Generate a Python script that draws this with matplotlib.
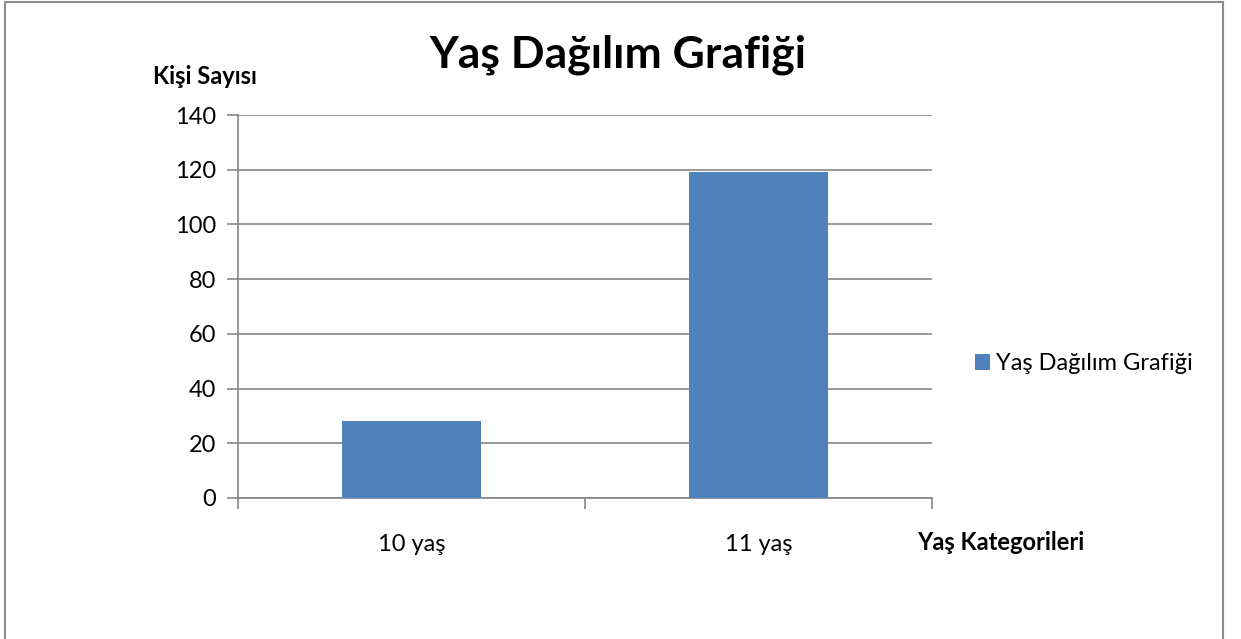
import matplotlib
matplotlib.use("Agg")
import matplotlib.pyplot as plt
from matplotlib.patches import Rectangle, Patch

categories = ["10 yaş", "11 yaş"]
values = [28, 119]
series_name = "Yaş Dağılım Grafiği"
title = "Yaş Dağılım Grafiği"
ylabel = "Kişi Sayısı"
xlabel = "Yaş Kategorileri"
yticks = [0, 20, 40, 60, 80, 100, 120, 140]

plt.rcParams['font.family'] = ['Lato', 'DejaVu Sans']

W, H = 1241, 639
fig = plt.figure(figsize=(W/100, H/100), dpi=100)
fig.patch.set_facecolor('white')

# outer border
fig.add_artist(Rectangle((5/W, -0.05), (1223-5)/W, 1.05 - 2/H, transform=fig.transFigure,
                         fill=False, edgecolor='#8c8c8c', linewidth=1.5))

left, right, top, bottom = 238, 932, 115, 498
ax = fig.add_axes([left/W, 1-bottom/H, (right-left)/W, (bottom-top)/H])
grid_c = '#868686'
x = list(range(len(categories)))
ax.bar(x, values, width=0.4, color='#4F81BD', zorder=3)
ax.set_xlim(-0.5, len(categories)-0.5)
ax.set_ylim(0, 140)
ax.set_yticks(yticks)
ax.set_yticklabels([str(v) for v in yticks], fontsize=17)
ax.yaxis.grid(True, color=grid_c, linewidth=1.2, zorder=0)
for s in ['top', 'right']:
    ax.spines[s].set_visible(False)
for s in ['left', 'bottom']:
    ax.spines[s].set_color(grid_c)
    ax.spines[s].set_linewidth(1.2)
ax.tick_params(axis='y', direction='out', length=8, color=grid_c, width=1.2, pad=8)
# x ticks at category boundaries
ax.set_xticks([-0.5 + i for i in range(len(categories)+1)])
ax.set_xticklabels([''] * (len(categories)+1))
ax.tick_params(axis='x', direction='out', length=8, color=grid_c, width=1.2)
ax.set_xticks(x, minor=True)
ax.set_xticklabels(categories, minor=True, fontsize=17)
ax.tick_params(axis='x', which='minor', length=0, pad=26)

fig.text(618/W, 1-55/H, title, ha='center', va='center', fontsize=32, fontweight='bold')
fig.text(205/W, 1-77/H, ylabel, ha='center', va='center', fontsize=17, fontweight='bold')
fig.text(1001/W, 1-543/H, xlabel, ha='center', va='center', fontsize=17, fontweight='bold')

fig.legend(handles=[Patch(facecolor='#4F81BD', label=series_name)], loc='center left',
           bbox_to_anchor=(963/W, 1-364/H), frameon=False, fontsize=17,
           handlelength=0.65, handleheight=0.65, handletextpad=0.25, borderpad=0)

fig.savefig('out.png', dpi=100)
